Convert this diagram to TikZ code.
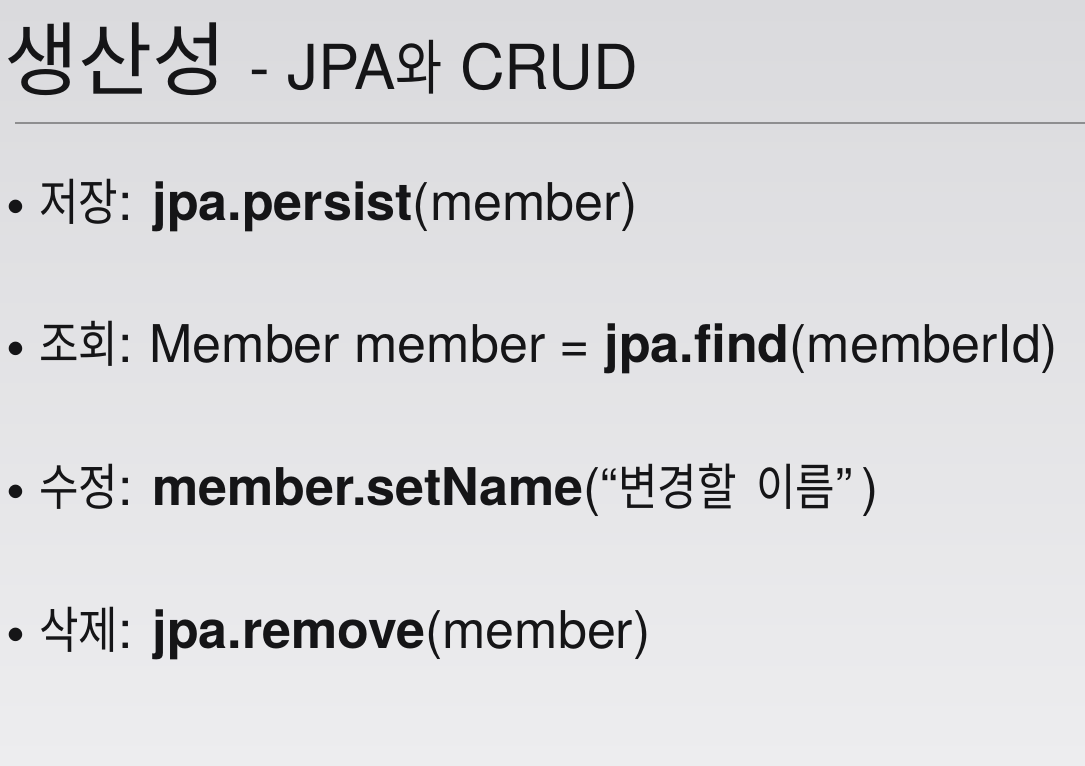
\documentclass[tikz,border=0pt]{standalone}
\usepackage{fontspec}
\setmainfont{TeX Gyre Heros}
\newfontfamily\kr[Scale=0.96, FakeStretch=0.86]{Noto Sans CJK KR}
\newfontfamily\krhead[Scale=0.96]{Noto Sans CJK KR}
\usetikzlibrary{positioning}

\definecolor{ink}{HTML}{151517}
\definecolor{bgtop}{HTML}{DADADD}
\definecolor{bgbot}{HTML}{EDEDEF}
\definecolor{rule}{HTML}{8E8E90}

\newcommand{\ko}[1]{{\kr #1}}
\newcommand{\dotmark}{\raisebox{-5pt}{\fontsize{54}{54}\selectfont\textbullet}\hspace{14pt}}

\tikzset{
  item/.style={anchor=base west, inner sep=0pt, text=ink,
    font=\fontsize{52}{60}\selectfont},
  head/.style={anchor=base west, inner sep=0pt, text=ink}
}

\begin{document}
\begin{tikzpicture}[x=1pt, y=-1pt]
        \useasboundingbox (0, 0) rectangle (1085, 766);
        \shade[top color=bgtop, bottom color=bgbot] (0, 0) rectangle (1085, 766);

        % title
        \node[head, font=\fontsize{84}{100}\selectfont\krhead] (title) at (4, 89) {생산성};
        \node[head, font=\fontsize{62}{70}\selectfont, right=22pt of title.base east, anchor=base west] (sub)
            {- JPA\ko{와} CRUD};
        \coordinate (ruleL) at (15, 123);
        \coordinate (ruleR) at (1085, 123);
        \draw[rule, line width=1.2pt] (ruleL) -- (ruleR);

        % items
        \node[item] (save) at (6, 220)
            {\dotmark\ko{저장}:\hspace{20pt}\textbf{jpa.persist}(member)};
        \node[item] (find) at (6, 362)
            {\dotmark\ko{조회}:\hspace{17pt}Member member = \textbf{jpa.find}(memberId)};
        \node[item] (edit) at (6, 505)
            {\dotmark\ko{수정}:\hspace{20pt}\textbf{member.setName}(“\ko{변경할\hspace{10pt} 이름}”\hspace{9pt})};
        \node[item] (drop) at (6, 648)
            {\dotmark\ko{삭제}:\hspace{20pt}\textbf{jpa.remove}(member)};

    \end{tikzpicture}
\end{document}
